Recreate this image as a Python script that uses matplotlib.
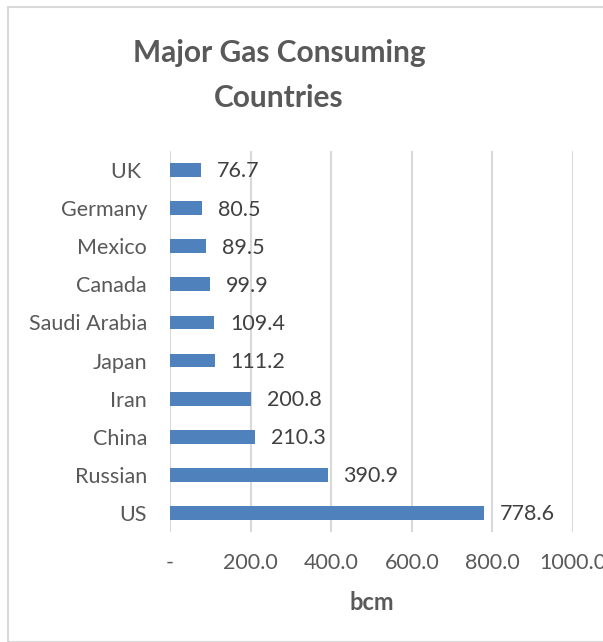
import matplotlib
matplotlib.use("Agg")
import matplotlib.pyplot as plt
from matplotlib.patches import Rectangle

countries = ["US", "Russian", "China", "Iran", "Japan", "Saudi Arabia",
             "Canada", "Mexico", "Germany", "UK "]
consumption = [778.6, 390.9, 210.3, 200.8, 111.2, 109.4, 99.9, 89.5, 80.5, 76.7]
x_ticks = [0, 200, 400, 600, 800, 1000]
x_tick_labels = ["-", "200.0", "400.0", "600.0", "800.0", "1000.0"]

plt.rcParams["font.family"] = ["Lato", "DejaVu Sans"]

W, H = 603, 642
fig = plt.figure(figsize=(W / 100, H / 100), dpi=100)

# chart frame
fig.patches.append(Rectangle((8 / W, 0), 1.2, 1 - 7 / H, transform=fig.transFigure,
                             fill=False, edgecolor="#d9d9d9", linewidth=1.5))

ax = fig.add_axes([170 / W, 1 - 532 / H, 403 / W, 381 / H])
pos = list(range(len(countries)))
bars = ax.barh(pos, consumption, height=0.36, color="#4f81bd", zorder=3)

for y, v in zip(pos, consumption):
    ax.annotate(f"{v:.1f}", (v, y), xytext=(11.5, -1), textcoords="offset points",
                va="center", ha="left", fontsize=15.5, color="#404040")

ax.set_xlim(0, 1000)
ax.set_ylim(-0.5, len(countries) - 0.5)
ax.set_yticks(pos)
ax.set_yticklabels(countries, fontsize=15.5, color="#595959")
ax.set_xticks(x_ticks)
ax.set_xticklabels(x_tick_labels, fontsize=15.5, color="#595959")
ax.tick_params(axis="both", length=0)
ax.tick_params(axis="y", pad=16.5)
ax.tick_params(axis="x", pad=15)
ax.grid(axis="x", color="#d9d9d9", linewidth=1.5, zorder=0)
for s in ax.spines.values():
    s.set_visible(False)
ax.set_xlabel("bcm", fontsize=17, fontweight="bold", color="#595959", labelpad=13)

fig.text(279 / W, 1 - 53 / H, "Major Gas Consuming", ha="center", va="center",
         fontsize=21.5, fontweight="bold", color="#595959")
fig.text(279 / W, 1 - 98 / H, "Countries", ha="center", va="center",
         fontsize=21.5, fontweight="bold", color="#595959")

fig.savefig("out.png", dpi=100)
